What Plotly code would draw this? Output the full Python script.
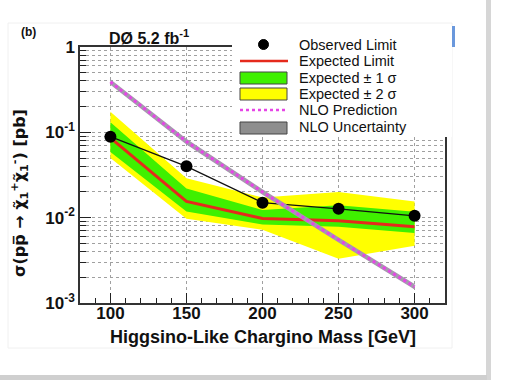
import plotly.graph_objects as go

# ---------------- data ----------------
mass = [100, 150, 200, 250, 300]
observed = [0.089, 0.040, 0.0150, 0.0127, 0.0105]
expected = [0.086, 0.0155, 0.0098, 0.0092, 0.0078]
exp_1s_hi = [0.131, 0.022, 0.0123, 0.0140, 0.0117]
exp_1s_lo = [0.059, 0.0118, 0.0083, 0.0078, 0.0066]
exp_2s_hi = [0.174, 0.029, 0.0172, 0.0200, 0.0155]
exp_2s_lo = [0.050, 0.0097, 0.0072, 0.0033, 0.0047]
nlo = [0.39, 0.078, 0.020, 0.0055, 0.00155]
nlo_hi = [0.42, 0.084, 0.0215, 0.0059, 0.00167]
nlo_lo = [0.36, 0.072, 0.0186, 0.0051, 0.00144]

x_ticks = [100, 150, 200, 250, 300]
y_ticks = [0.001, 0.01, 0.1, 1]
y_ticktext = ["10<sup>-3</sup>", "10<sup>-2</sup>", "10<sup>-1</sup>", "1"]
legend_labels = ["Observed Limit", "Expected Limit", "Expected \u00b1 1 \u03c3",
                 "Expected \u00b1 2 \u03c3", "NLO Prediction", "NLO Uncertainty"]

# ---------------- layout geometry (pixels) ----------------
WIDTH, HEIGHT = 507, 380
L, R, T, B = 80, 445, 47, 303
W, H = R - L, B - T


def px(x):
    return (x - L) / W


def py(y):
    return (B - y) / H


FONT = "Liberation Sans, Arial, Helvetica, sans-serif"
GREEN = "#3ff000"
YELLOW = "#ffff00"
RED = "#e52a1c"
MAGENTA = "#e645e6"

fig = go.Figure()


def band(lo, hi, color, name):
    fig.add_trace(go.Scatter(
        x=mass + mass[::-1], y=hi + lo[::-1], fill="toself", fillcolor=color,
        line=dict(width=0, color=color), mode="lines", name=name,
        hoverinfo="skip", showlegend=False))


band(exp_2s_lo, exp_2s_hi, YELLOW, legend_labels[3])
band(exp_1s_lo, exp_1s_hi, GREEN, legend_labels[2])
fig.add_trace(go.Scatter(x=mass, y=expected, mode="lines",
                         line=dict(color=RED, width=3), name=legend_labels[1],
                         showlegend=False))
fig.add_trace(go.Scatter(x=mass, y=observed, mode="lines+markers",
                         line=dict(color="#111", width=1.3),
                         marker=dict(color="black", size=12),
                         name=legend_labels[0], showlegend=False))
band(nlo_lo, nlo_hi, "#a59aae", legend_labels[5])
fig.add_trace(go.Scatter(x=mass, y=nlo, mode="lines",
                         line=dict(color=MAGENTA, width=3, dash="dot"),
                         name=legend_labels[4], showlegend=False))

# minor tick positions
y_minor = [m * 10 ** e for e in (-3, -2, -1) for m in range(2, 10)]
x_minor = list(range(80, 321, 10))

grid_col = "#a0a0a0"
fig.update_xaxes(
    range=[80, 320], tickmode="array", tickvals=x_ticks,
    ticks="inside", ticklen=10, tickcolor="#222", tickwidth=1,
    showgrid=True, gridcolor=grid_col, griddash="dot", gridwidth=1,
    minor=dict(tickmode="array", tickvals=x_minor, ticks="inside",
               ticklen=5, tickcolor="#222", showgrid=False),
    showline=True, linecolor="#333", linewidth=1.5, mirror=True,
    zeroline=False, ticklabelstandoff=-6,
    tickfont=dict(family=FONT, size=17, color="#111", weight="bold"),
)
fig.update_yaxes(
    type="log", range=[-3, 0], tickmode="array", tickvals=y_ticks,
    ticktext=y_ticktext,
    ticks="inside", ticklen=11, tickcolor="#222", tickwidth=1,
    showgrid=True, gridcolor=grid_col, griddash="dot", gridwidth=1,
    minor=dict(tickmode="array", tickvals=y_minor, ticks="inside",
               ticklen=6, tickcolor="#222", showgrid=True,
               gridcolor=grid_col, griddash="dot", gridwidth=1),
    showline=True, linecolor="#333", linewidth=1.5, mirror=True,
    zeroline=False,
    tickfont=dict(family=FONT, size=17, color="#111", weight="bold"),
)

shapes = []
# faint page frame / screenshot decorations
shapes.append(dict(type="rect", xref="paper", yref="paper",
                   x0=px(8), x1=px(452), y0=py(348), y1=py(23),
                   line=dict(color="#f0f0f0", width=1), layer="below"))
shapes.append(dict(type="rect", xref="paper", yref="paper",
                   x0=px(486), x1=px(491), y0=py(380), y1=py(0),
                   fillcolor="#d6d6d6", line=dict(width=0), layer="below"))
shapes.append(dict(type="rect", xref="paper", yref="paper",
                   x0=px(0), x1=px(487), y0=py(380), y1=py(375),
                   fillcolor="#cfcfcf", line=dict(width=0), layer="below"))
shapes.append(dict(type="rect", xref="paper", yref="paper",
                   x0=px(452), x1=px(455), y0=py(47), y1=py(26),
                   fillcolor="#6a98dc", line=dict(width=0), layer="below"))
# white legend box covering grid / frame
shapes.append(dict(type="rect", xref="paper", yref="paper",
                   x0=px(232), x1=px(452), y0=py(137), y1=py(26),
                   fillcolor="white", line=dict(width=0), layer="above"))
# legend symbols
sx0, sx1 = 240, 287
shapes.append(dict(type="circle", xref="paper", yref="paper",
                   x0=px(258.5), x1=px(268.5), y0=py(49.5), y1=py(39.5),
                   fillcolor="black", line=dict(color="black", width=1),
                   layer="above"))
shapes.append(dict(type="line", xref="paper", yref="paper",
                   x0=px(sx0), x1=px(sx1 + 1), y0=py(61), y1=py(61),
                   line=dict(color=RED, width=2.5), layer="above"))
for (y0, y1, col) in [(72, 84, GREEN), (88, 100, YELLOW), (122, 134, "#8e8e8e")]:
    shapes.append(dict(type="rect", xref="paper", yref="paper",
                       x0=px(sx0), x1=px(sx1), y0=py(y1), y1=py(y0),
                       fillcolor=col, line=dict(color="#444", width=1),
                       layer="above"))
shapes.append(dict(type="line", xref="paper", yref="paper",
                   x0=px(sx0), x1=px(sx1), y0=py(110), y1=py(110),
                   line=dict(color=MAGENTA, width=2.5, dash="dot"),
                   layer="above"))

annotations = []
for lbl, yc in zip(legend_labels, [45, 61, 77.5, 94, 110, 126.5]):
    annotations.append(dict(text=lbl, xref="paper", yref="paper",
                            x=px(297), y=py(yc), xanchor="left",
                            yanchor="middle", showarrow=False,
                            font=dict(family=FONT, size=14.5, color="#111")))
annotations.append(dict(text="<b>D\u00d8 5.2 fb<sup>-1</sup></b>",
                        xref="paper", yref="paper", x=px(149), y=py(37),
                        xanchor="center", yanchor="middle", showarrow=False,
                        font=dict(family=FONT, size=16, color="#111")))
annotations.append(dict(text="<b>(b)</b>", xref="paper", yref="paper",
                        x=px(28), y=py(32), xanchor="center",
                        yanchor="middle", showarrow=False,
                        font=dict(family=FONT, size=12, color="#111")))
annotations.append(dict(text="<b>Higgsino-Like Chargino Mass [GeV]</b>",
                        xref="paper", yref="paper", x=px(263), y=py(337),
                        xanchor="center", yanchor="middle", showarrow=False,
                        font=dict(family=FONT, size=18, color="#111")))
annotations.append(dict(
    text="<b>\u03c3(pp\u0305 \u2192 \u03c7\u0303<sub>1</sub><sup>+</sup>"
         "\u03c7\u0303<sub>1</sub><sup>-</sup>) [pb]</b>",
    xref="paper", yref="paper", x=px(19), y=py(193), textangle=-90,
    xanchor="center", yanchor="middle", showarrow=False,
    font=dict(family="DejaVu Sans, " + FONT, size=16, color="#111")))

fig.update_layout(
    width=WIDTH, height=HEIGHT,
    margin=dict(l=L, r=WIDTH - R, t=T, b=HEIGHT - B, pad=0),
    paper_bgcolor="white", plot_bgcolor="white",
    showlegend=False, shapes=shapes, annotations=annotations,
    font=dict(family=FONT, color="#111"),
)

fig.write_html("out.html",
               config={"displayModeBar": False},
               post_script="document.body.style.margin='0px';"
                           "document.body.style.padding='0px';")
